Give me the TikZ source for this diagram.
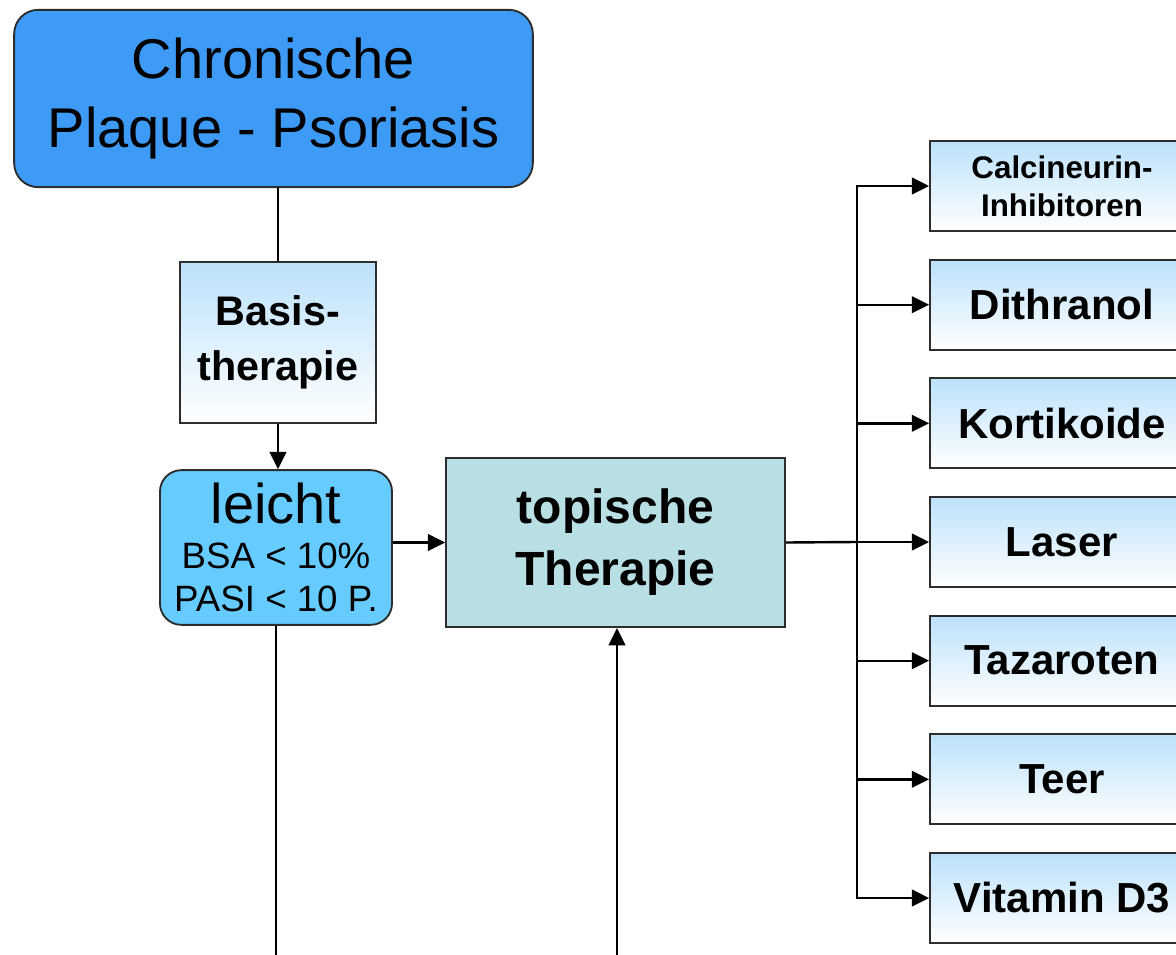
\documentclass[tikz,border=0pt]{standalone}
\usepackage{fontspec}
\setmainfont{Liberation Sans}
\usetikzlibrary{arrows.meta}

\definecolor{chronblue}{RGB}{61,155,245}
\definecolor{leichtblue}{RGB}{102,204,255}
\definecolor{topiteal}{RGB}{184,223,228}
\definecolor{gradtop}{RGB}{188,225,250}
\definecolor{boxline}{RGB}{45,45,45}

\tikzset{
  arr/.style={line width=1.8pt,-{Triangle[length=13pt,width=12.5pt]}},
  conn/.style={line width=1.8pt},
  gradbox/.style={draw=boxline,line width=1.4pt,top color=gradtop,bottom color=white,inner sep=0pt,align=center,minimum width=198pt,minimum height=67.5pt,font=\bfseries\fontsize{31.5}{38}\selectfont},
}

\begin{document}
\begin{tikzpicture}[x=0.75pt,y=0.75pt,yscale=-1,xscale=1]
\useasboundingbox (0,0) rectangle (1176,955);
\clip (0,0) rectangle (1176,955);

%Rounded Rect [chron]
\node (chron) [draw=boxline,line width=1.4pt,fill=chronblue,rounded corners=18pt,minimum width=389pt,minimum height=133pt,inner sep=0pt,align=center,font=\fontsize{42}{52}\selectfont] at (273.5,98.5) {Chronische\\Plaque - Psoriasis};
%Rect [basis]
\node (basis) [draw=boxline,line width=1.4pt,top color=gradtop,bottom color=white,minimum width=147pt,minimum height=121pt,inner sep=0pt,align=center,font=\bfseries\fontsize{31}{41}\selectfont] at (278,342.5) {Basis-\\therapie};
%Rounded Rect [leicht]
\node (leicht) [draw=boxline,line width=1.4pt,fill=leichtblue,rounded corners=16pt,minimum width=174pt,minimum height=116pt,inner sep=0pt,align=center,font=\fontsize{27.5}{32}\selectfont] at (276,547.5) {{\fontsize{42}{42}\selectfont leicht}\\[2pt]BSA < 10\%\\PASI < 10 P.};
%Rect [topi]
\node (topi) [draw=boxline,line width=1.4pt,fill=topiteal,minimum width=254pt,minimum height=127pt,inner sep=0pt,align=center,font=\bfseries\fontsize{36}{46.5}\selectfont] at (615.5,542.5) {topische\\Therapie};

%Rect [right column]
\node (calc) [gradbox,font=\bfseries\fontsize{23.5}{28.5}\selectfont] at (1062,186) {Calcineurin-\\Inhibitoren};
\node (dith) [gradbox] at (1062,304.7) {Dithranol};
\node (kort) [gradbox] at (1062,423.3) {Kortikoide};
\node (laser) [gradbox] at (1062,542) {Laser};
\node (taza) [gradbox] at (1062,660.7) {Tazaroten};
\node (teer) [gradbox] at (1062,779.3) {Teer};
\node (vitd) [gradbox] at (1062,898) {Vitamin D3};

%Free ends
\coordinate (trunk) at (857,542);
\coordinate (botl) at (276,965);
\coordinate (botr) at (617,965);

%Straight Lines
\draw [conn] (basis.north) -- (basis.north |- chron.south);
\draw [arr] (basis.south) -- (basis.south |- leicht.north);
\draw [arr] (leicht.east |- topi.west) -- (topi.west);
\draw [conn] (leicht.south) -- (leicht.south |- botl);
\draw [arr] (botr) -- (botr |- topi.south);
\draw [conn] (topi.east) -- (trunk);
%Straight Lines [branches]
\draw [arr] (trunk) |- (calc.west);
\draw [arr] (trunk) |- (dith.west);
\draw [arr] (trunk) |- (kort.west);
\draw [arr] (trunk) -- (laser.west);
\draw [arr] (trunk) |- (taza.west);
\draw [arr] (trunk) |- (teer.west);
\draw [arr] (trunk) |- (vitd.west);

\end{tikzpicture}
\end{document}
